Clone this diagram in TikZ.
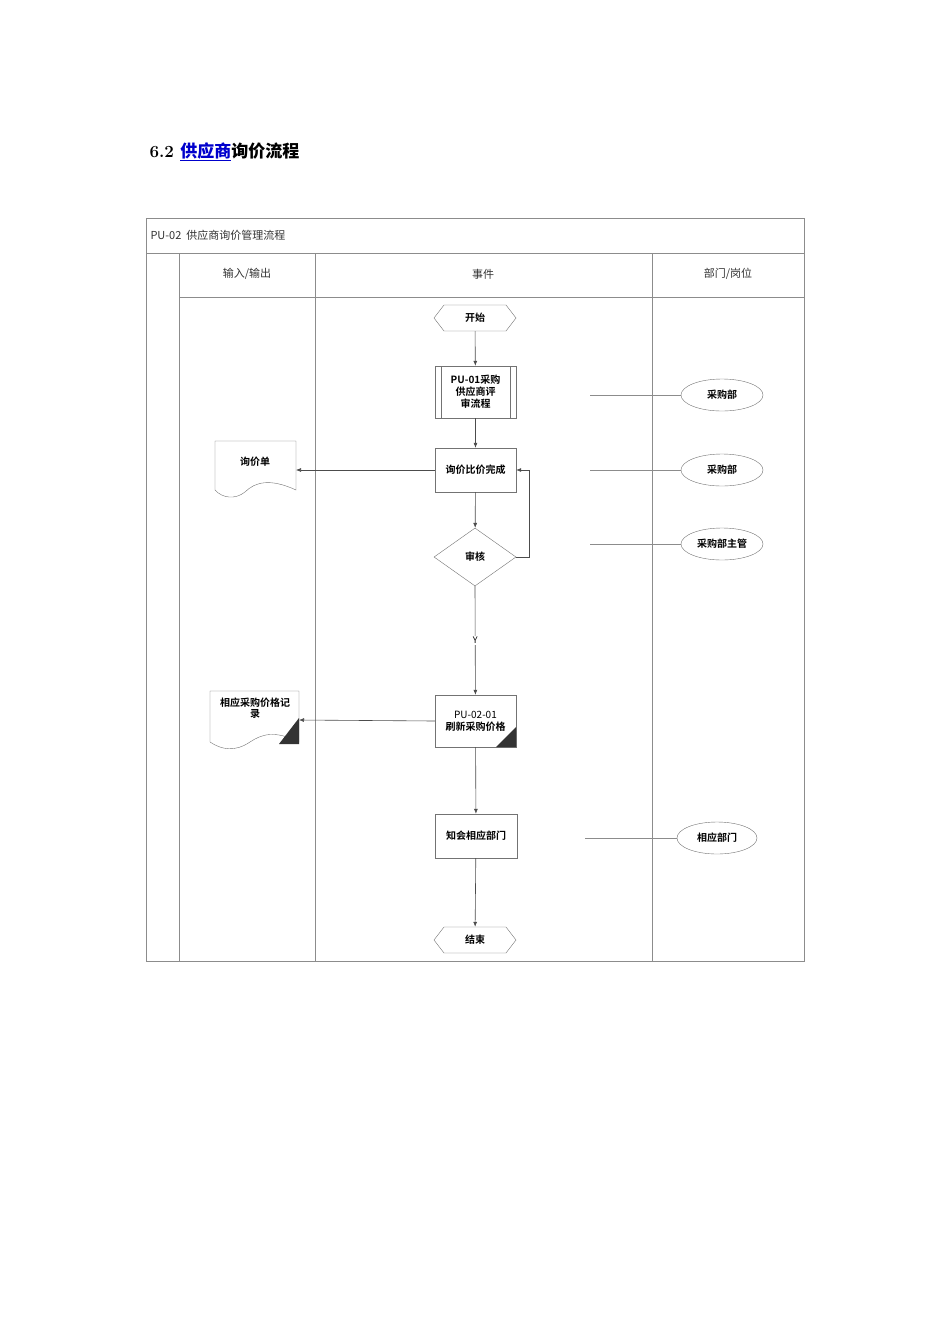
\documentclass[tikz,border=0pt]{standalone}
\usepackage{fontspec}
\newfontfamily\cjk{Noto Sans CJK SC}
\newfontfamily\cjkb{Noto Sans CJK SC Bold}
\usetikzlibrary{shapes.geometric,arrows.meta}
\begin{document}
\begin{tikzpicture}[x=1pt,y=-1pt,
  ln/.style={draw=black!45,line width=0.5pt},
  fl/.style={draw=black!70,line width=0.6pt,-{Latex[length=5pt,width=4pt]}},
  boxn/.style={draw=black!55,fill=white,minimum width=81pt,align=center,font=\cjkb\fontsize{10}{12}\selectfont,inner sep=1pt},
  hexn/.style={draw=black!55,fill=white,regular polygon,regular polygon sides=6,shape border rotate=0,minimum width=82pt,minimum height=26pt,font=\cjkb\fontsize{10}{12}\selectfont,inner sep=0pt},
  elln/.style={draw=black!55,fill=white,ellipse,minimum width=82pt,minimum height=32pt,font=\cjkb\fontsize{10}{12}\selectfont,inner sep=0pt},
  hd/.style={font=\cjk\fontsize{11}{13}\selectfont,text=black!80}]
\useasboundingbox (0,0) rectangle (950,1344);
\node[anchor=base west,font=\bfseries\fontsize{17}{20}\selectfont] (h) at (146,157) {6.2 {\cjkb\color{blue!80!black}\underline{供应商}}{\cjkb 询价流程}};
% frame
\draw[ln] (146,218) rectangle (804,961);
\draw[ln] (146,253) -- (804,253);
\draw[ln] (179,297) -- (804,297);
\draw[ln] (179,253) -- (179,961);
\draw[ln] (315,253) -- (315,961);
\draw[ln] (652,253) -- (652,961);
\node[hd,anchor=west] (t) at (147,235) {PU-02\ \ 供应商询价管理流程};
\node[hd] (c1) at (247,274) {输入/输出};
\node[hd] (c2) at (483,274) {事件};
\node[hd] (c3) at (728,274) {部门/岗位};
% nodes
\node[draw=black!55,fill=white,minimum width=82pt,minimum height=26pt,inner sep=0pt,font=\cjkb\fontsize{10}{12}\selectfont,
  shape=rectangle,draw=none] (start) at (475,318) {开始};
\draw[draw=black!55] (434,318) -- (444,305) -- (506,305) -- (516,318) -- (506,331) -- (444,331) -- cycle;
\node[boxn,minimum height=52pt] (p1) at (475.5,392) {PU-01采购\\供应商评\\审流程};
\draw[draw=black!55] (441,366) -- (441,418) (510,366) -- (510,418);
\node[boxn,minimum height=44pt] (xj) at (475.5,470) {询价比价完成};
\node[draw=black!55,fill=white,diamond,minimum width=82pt,minimum height=58pt,aspect=1.4,inner sep=0pt,font=\cjkb\fontsize{10}{12}\selectfont] (sh) at (475,557) {审核};
\node[boxn,minimum height=52pt] (p2) at (475.5,721) {{\cjk PU-02-01}\\刷新采购价格};
\fill[black!80] (516,747) -- (516,727) -- (496,747) -- cycle;
\node[boxn,minimum height=44pt,minimum width=82pt] (zh) at (476,836) {知会相应部门};
\node[minimum width=82pt,minimum height=26pt,inner sep=0pt,font=\cjkb\fontsize{10}{12}\selectfont] (end) at (475,940) {结束};
\draw[draw=black!55] (434,940) -- (444,927) -- (506,927) -- (516,940) -- (506,953) -- (444,953) -- cycle;
% ellipses
\node[elln] (e1) at (722,395) {采购部};
\node[elln] (e2) at (722,470) {采购部};
\node[elln] (e3) at (722,544) {采购部主管};
\node[elln,minimum width=80pt] (e4) at (717,838) {相应部门};
\coordinate (a1) at (590,395); \coordinate (a2) at (590,470);
\coordinate (a3) at (590,544); \coordinate (a4) at (585,838);
\draw[ln] (a1) -- (e1.west); \draw[ln] (a2) -- (e2.west);
\draw[ln] (a3) -- (e3.west); \draw[ln] (a4) -- (e4.west);
% documents
\draw[draw=black!55,fill=white] (215,441) -- (296,441) -- (296,490) .. controls (270,478) and (255,482) .. (245,492) .. controls (235,500) and (222,498) .. (215,490) -- cycle;
\node[font=\cjkb\fontsize{10}{12}\selectfont] (d1) at (255,462) {询价单};
\coordinate (d1e) at (296,470);
\draw[draw=black!55,fill=white] (210,691) -- (299,691) -- (299,742) .. controls (275,730) and (262,734) .. (250,742) .. controls (235,752) and (222,750) .. (210,742) -- cycle;
\fill[black!80] (299,744) -- (299,718) -- (279,744) -- cycle;
\node[font=\cjkb\fontsize{10}{11}\selectfont,align=center] (d2) at (255,708) {相应采购价格记\\录};
\coordinate (d2e) at (299,720);
% flows
\draw[fl] (start) -- (p1);
\draw[fl] (p1) -- (xj);
\draw[fl] (xj) -- (sh);
\draw[fl] (xj.west) -- (d1e);
\draw[fl] (sh.east) -- (529,557) -- (529,470) -- (xj.east);
\draw[fl] (sh.south) -- node[fill=white,font=\cjk\fontsize{9}{10}\selectfont,inner sep=1pt] {Y} (p2);
\draw[fl] (p2.west) -- (d2e);
\draw[fl] (p2) -- (zh);
\draw[fl] (zh) -- (end);
\end{tikzpicture}
\end{document}
